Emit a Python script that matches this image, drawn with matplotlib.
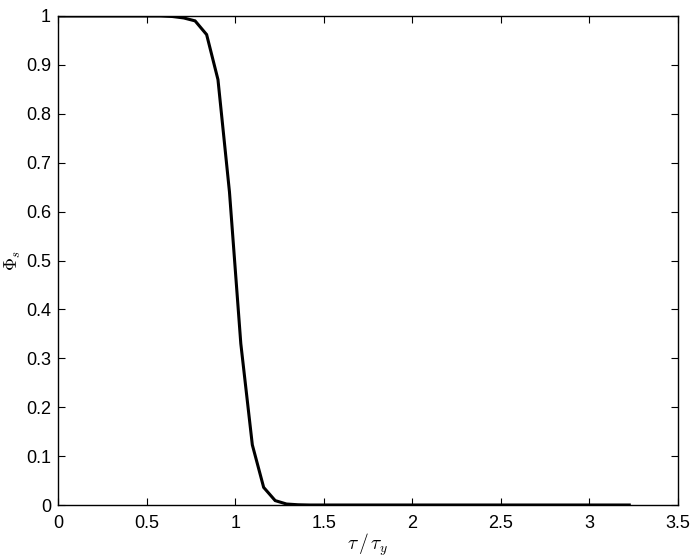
import matplotlib
matplotlib.use("Agg")
import matplotlib.pyplot as plt

# data
tau_ratio = [0.0, 0.58, 0.645, 0.71, 0.774, 0.839, 0.903, 0.968, 1.032,
             1.097, 1.161, 1.226, 1.29, 1.355, 1.42, 3.225]
phi_s = [1.0, 1.0, 0.999, 0.996, 0.990, 0.962, 0.870, 0.640, 0.330,
         0.123, 0.036, 0.009, 0.002, 0.0005, 0.0, 0.0]

xticks = [0, 0.5, 1, 1.5, 2, 2.5, 3, 3.5]
xticklabels = ["0", "0.5", "1", "1.5", "2", "2.5", "3", "3.5"]
yticks = [0, 0.1, 0.2, 0.3, 0.4, 0.5, 0.6, 0.7, 0.8, 0.9, 1]
yticklabels = ["0", "0.1", "0.2", "0.3", "0.4", "0.5", "0.6", "0.7", "0.8", "0.9", "1"]

plt.rcParams['font.family'] = ['Liberation Sans', 'DejaVu Sans']
plt.rcParams['mathtext.fontset'] = 'cm'

fig = plt.figure(figsize=(6.97, 5.59), dpi=100)
ax = fig.add_axes([58/697, 1-505/559, (678-58)/697, (505-16)/559])
ax.plot(tau_ratio, phi_s, color='black', linewidth=2.2, solid_joinstyle='miter')
ax.set_xlim(0, 3.5)
ax.set_ylim(0, 1)
ax.set_xticks(xticks)
ax.set_xticklabels(xticklabels)
ax.set_yticks(yticks)
ax.set_yticklabels(yticklabels)
ax.tick_params(direction='in', top=True, right=True, labelsize=13, length=5, width=0.8)
ax.tick_params(axis='x', pad=7)
ax.tick_params(axis='y', pad=5)
for s in ax.spines.values():
    s.set_linewidth(1.0)
ax.set_xlabel(r'$\tau\,/\,\tau_y$', fontsize=14, labelpad=0)
ax.set_ylabel(r'$\Phi_s$', fontsize=13, labelpad=2)
fig.savefig("out.png", dpi=100)
